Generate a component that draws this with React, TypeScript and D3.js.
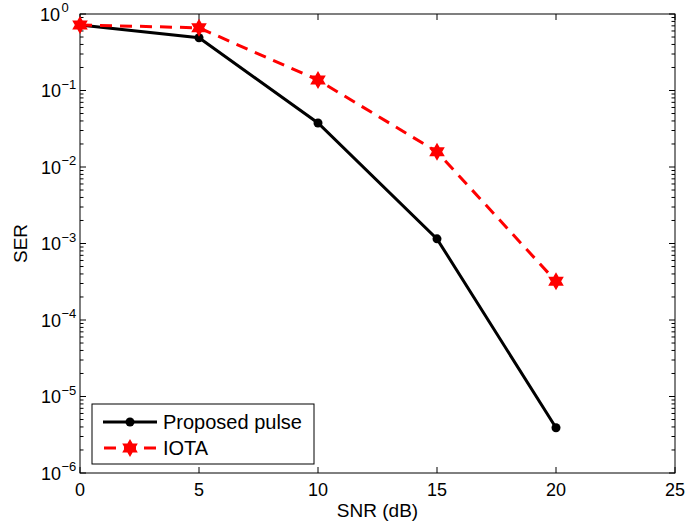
import React from "react";
import * as d3 from "d3";

const snr = [0, 5, 10, 15, 20];
const proposed = [0.72, 0.49, 0.0376, 0.00115, 3.9e-6];
const iota = [0.72, 0.66, 0.137, 0.0158, 3.2e-4];
const xTicks = [0, 5, 10, 15, 20, 25];
const yExps = [0, -1, -2, -3, -4, -5, -6];

const W = 686, H = 527;
const L = 80, R = 675, T = 14, B = 473;
const FONT = "'Liberation Sans', Arial, Helvetica, sans-serif";

function star(cx: number, cy: number, r: number) {
  const ri = r * 0.577;
  const pts: string[] = [];
  for (let i = 0; i < 12; i++) {
    const a = (Math.PI / 6) * i - Math.PI / 2;
    const rr = i % 2 === 0 ? r : ri;
    pts.push(`${cx + rr * Math.cos(a)},${cy + rr * Math.sin(a)}`);
  }
  return pts.join(" ");
}

export default function App() {
  const x = d3.scaleLinear().domain([0, 25]).range([L, R]);
  const y = d3.scaleLog().domain([1e-6, 1]).range([B, T]);
  const line = d3
    .line<number>()
    .x((_, i) => x(snr[i]))
    .y((d) => y(d));

  const minors: number[] = [];
  for (let e = -6; e < 0; e++) for (let m = 2; m <= 9; m++) minors.push(m * Math.pow(10, e));

  return (
    <svg width={W} height={H} style={{ position: "absolute", left: 0, top: 0 }} fontFamily={FONT}>
      <rect x={0} y={0} width={W} height={H} fill="#fff" />
      {/* ticks */}
      {xTicks.map((t) => (
        <g key={"x" + t}>
          <line x1={x(t)} x2={x(t)} y1={B} y2={B - 6} stroke="#000" />
          <line x1={x(t)} x2={x(t)} y1={T} y2={T + 6} stroke="#000" />
          <text x={x(t)} y={496} fontSize={18} textAnchor="middle">{t}</text>
        </g>
      ))}
      {yExps.map((e) => (
        <g key={"y" + e}>
          <line x1={L} x2={L + 6} y1={y(Math.pow(10, e))} y2={y(Math.pow(10, e))} stroke="#000" />
          <line x1={R} x2={R - 6} y1={y(Math.pow(10, e))} y2={y(Math.pow(10, e))} stroke="#000" />
          <text x={e < 0 ? 61 : 60} y={y(Math.pow(10, e)) + 6.5} fontSize={18} textAnchor="end">10</text>
          <text x={e < 0 ? 61.5 : 61.5} y={y(Math.pow(10, e)) - 2} fontSize={13} textAnchor="start">
            {e === 0 ? "0" : "\u2212" + -e}
          </text>
        </g>
      ))}
      {minors.map((v, i) => (
        <g key={"m" + i}>
          <line x1={L} x2={L + 3.5} y1={y(v)} y2={y(v)} stroke="#000" />
          <line x1={R} x2={R - 3.5} y1={y(v)} y2={y(v)} stroke="#000" />
        </g>
      ))}
      <rect x={L} y={T} width={R - L} height={B - T} fill="none" stroke="#000" strokeWidth={1} />
      {/* series */}
      <path d={line(proposed) || ""} fill="none" stroke="#000" strokeWidth={3} />
      {proposed.map((v, i) => (
        <circle key={"p" + i} cx={x(snr[i])} cy={y(v)} r={4.5} fill="#000" />
      ))}
      <path d={line(iota) || ""} fill="none" stroke="#ff0000" strokeWidth={3} strokeDasharray="12,8" />
      {iota.map((v, i) => (
        <polygon key={"s" + i} points={star(x(snr[i]), y(v), 9)} fill="#ff0000" />
      ))}
      {/* legend */}
      <rect x={92} y={404} width={222} height={60} fill="#fff" stroke="#000" strokeWidth={1} />
      <line x1={103} x2={157} y1={422} y2={422} stroke="#000" strokeWidth={3} />
      <circle cx={130} cy={422} r={4.5} fill="#000" />
      <text x={163} y={428.5} fontSize={20}>Proposed pulse</text>
      <line x1={103} x2={157} y1={448} y2={448} stroke="#ff0000" strokeWidth={3} strokeDasharray="12,8" strokeDashoffset={-1} />
      <polygon points={star(130, 448, 9)} fill="#ff0000" />
      <text x={163} y={455} fontSize={20}>IOTA</text>
      {/* axis labels */}
      <text x={(L + R) / 2} y={517} fontSize={19} textAnchor="middle">SNR (dB)</text>
      <text transform={`translate(27,${(T + B) / 2}) rotate(-90)`} fontSize={19} textAnchor="middle">SER</text>
    </svg>
  );
}
